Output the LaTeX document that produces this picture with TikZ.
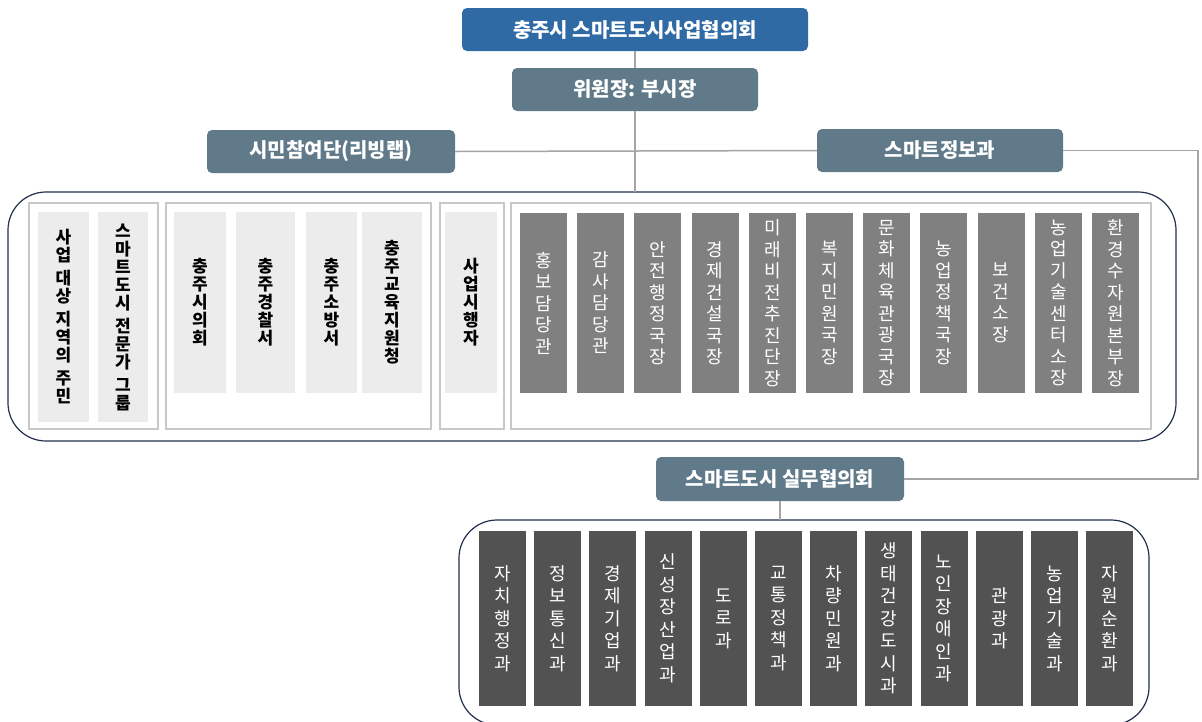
\documentclass[tikz,border=0pt]{standalone}
\usepackage{fontspec}
\setmainfont{Noto Sans CJK KR}
\definecolor{topblue}{RGB}{47,106,165}
\definecolor{slate}{RGB}{96,122,138}
\definecolor{navy}{RGB}{35,48,78}
\definecolor{grpgrey}{RGB}{200,200,200}
\definecolor{lightfill}{RGB}{236,236,236}
\definecolor{midgrey}{RGB}{128,128,128}
\definecolor{botgrey}{RGB}{82,82,82}
\definecolor{linegrey}{RGB}{165,165,165}
\begin{document}
\begin{tikzpicture}[x=1pt,y=-1pt,
  hdr/.style={rounded corners=5pt, inner sep=0pt, outer sep=0pt, text=white,
    font=\bfseries\fontsize{20}{23}\selectfont, anchor=north west},
  bluebox/.style={hdr, fill=topblue},
  slatebox/.style={hdr, fill=slate},
  frame/.style={draw=navy, line width=1.2pt, rounded corners=38pt, fill=white,
    inner sep=0pt, outer sep=0pt, anchor=north west},
  grp/.style={draw=grpgrey, line width=2pt, fill=white, inner sep=0pt, outer sep=0pt, anchor=north west},
  lightcol/.style={fill=lightfill, inner sep=0pt, outer sep=0pt, anchor=north west, align=center,
    text=black, font=\bfseries\fontsize{17}{18}\selectfont},
  darkcol/.style={fill=midgrey, inner sep=0pt, outer sep=0pt, anchor=north west, align=center,
    minimum width=47pt, minimum height=180pt, text=white, font=\fontsize{18}{21.5}\selectfont},
  botcol/.style={fill=botgrey, inner sep=0pt, outer sep=0pt, anchor=north west, align=center,
    minimum width=47pt, minimum height=175pt, text=white, font=\fontsize{18}{22.5}\selectfont},
  link/.style={draw=linegrey, line width=1.5pt},
]
\fill[white] (0,0) rectangle (1202,721);
\useasboundingbox (0,0) rectangle (1202,721);

% header boxes
\node[bluebox, minimum width=346pt, minimum height=43pt] (top) at (462,8) {충주시 스마트도시사업협의회};
\node[slatebox, minimum width=246pt, minimum height=43pt] (vice) at (512,68) {위원장: 부시장};
\node[slatebox, minimum width=248pt, minimum height=43pt] (civ) at (207,130) {시민참여단(리빙랩)};
\node[slatebox, minimum width=246pt, minimum height=43pt] (smart) at (817,129) {스마트정보과};
\node[slatebox, minimum width=248pt, minimum height=44pt] (wk) at (656,457) {스마트도시 실무협의회};

% upper frame
\node[frame, minimum width=1168pt, minimum height=249pt] (big) at (8,192) {};
\node[grp, minimum width=129pt, minimum height=226pt] (g1) at (29,203) {};
\node[grp, minimum width=265pt, minimum height=226pt] (g2) at (166,203) {};
\node[grp, minimum width=64pt, minimum height=226pt] (g3) at (440,203) {};
\node[grp, minimum width=640pt, minimum height=226pt] (g4) at (511,203) {};

\node[lightcol, minimum width=51pt, minimum height=210pt] (l1) at (38,212)
  {사\\업\\[5pt]대\\상\\[5pt]지\\역\\의\\[5pt]주\\민};
\node[lightcol, minimum width=50pt, minimum height=210pt] (l2) at (98,212)
  {스\\마\\트\\도\\시\\[5pt]전\\문\\가\\[5pt]그\\룹};
\node[lightcol, minimum width=52pt, minimum height=181pt] (l3) at (174,212) {충\\주\\시\\의\\회};
\node[lightcol, minimum width=59pt, minimum height=181pt] (l4) at (236,212) {충\\주\\경\\찰\\서};
\node[lightcol, minimum width=51pt, minimum height=181pt] (l5) at (306,212) {충\\주\\소\\방\\서};
\node[lightcol, minimum width=60pt, minimum height=181pt] (l6) at (362,212) {충\\주\\교\\육\\지\\원\\청};
\node[lightcol, minimum width=52pt, minimum height=181pt] (l7) at (445,212) {사\\업\\시\\행\\자};

\foreach \t [count=\i from 0] in {
  {홍\\보\\담\\당\\관},
  {감\\사\\담\\당\\관},
  {안\\전\\행\\정\\국\\장},
  {경\\제\\건\\설\\국\\장},
  {미\\래\\비\\전\\추\\진\\단\\장},
  {복\\지\\민\\원\\국\\장},
  {문\\화\\체\\육\\관\\광\\국\\장},
  {농\\업\\정\\책\\국\\장},
  {보\\건\\소\\장},
  {농\\업\\기\\술\\센\\터\\소\\장},
  {환\\경\\수\\자\\원\\본\\부\\장}}
  \node[darkcol] (d\i) at ({520+57.2*\i},213) {\t};

% lower frame
\node[frame, minimum width=690pt, minimum height=205pt] (bot) at (459,520) {};
\foreach \t [count=\i from 0] in {
  {자\\치\\행\\정\\과},
  {정\\보\\통\\신\\과},
  {경\\제\\기\\업\\과},
  {신\\성\\장\\산\\업\\과},
  {도\\로\\과},
  {교\\통\\정\\책\\과},
  {차\\량\\민\\원\\과},
  {생\\태\\건\\강\\도\\시\\과},
  {노\\인\\장\\애\\인\\과},
  {관\\광\\과},
  {농\\업\\기\\술\\과},
  {자\\원\\순\\환\\과}}
  \node[botcol] (b\i) at ({479+55.2*\i},531) {\t};

% connectors
\coordinate (rc) at (1198,300);
\draw[link] (top.south) -- (vice.north);
\draw[link] (vice.south) -- (vice.south |- big.north);
\draw[link] (civ.east) -- (smart.west);
\draw[link] (smart.east) -| (rc) |- (wk.east);
\draw[link] (wk.south) -- (wk.south |- bot.north);
\end{tikzpicture}
\end{document}
